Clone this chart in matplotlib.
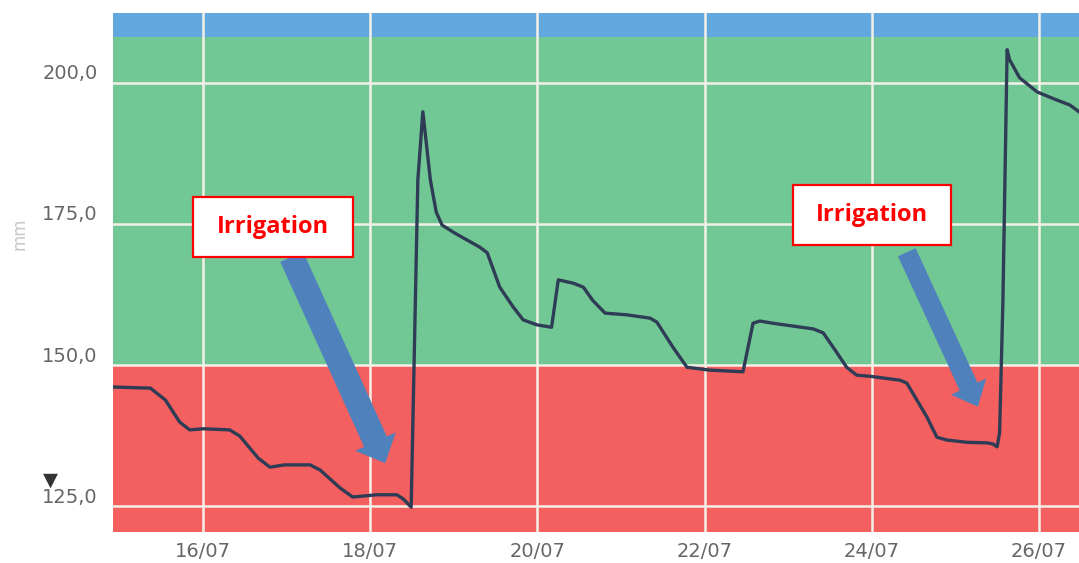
import matplotlib
matplotlib.use("Agg")
import matplotlib.pyplot as plt
from matplotlib.patches import Rectangle, FancyArrowPatch
from matplotlib.transforms import ScaledTranslation

# ---- data (day of July, soil water in mm) ----
days = [14.92, 15.37, 15.55, 15.72, 15.84, 16.00, 16.32, 16.44, 16.66, 16.80,
        16.98, 17.28, 17.40, 17.64, 17.79, 18.08, 18.32, 18.40, 18.49, 18.57,
        18.63, 18.72, 18.79, 18.86, 19.01, 19.31, 19.40, 19.55, 19.71, 19.83,
        20.00, 20.17, 20.25, 20.43, 20.55, 20.66, 20.81, 21.07, 21.35, 21.43,
        21.62, 21.79, 22.06, 22.46, 22.58, 22.66, 22.82, 23.30, 23.42, 23.56,
        23.70, 23.82, 23.98, 24.34, 24.42, 24.54, 24.66, 24.78, 24.90, 25.14,
        25.38, 25.45, 25.50, 25.53, 25.57, 25.62, 25.65, 25.77, 25.98, 26.21,
        26.37, 26.48]
water_mm = [146.1, 145.9, 143.8, 139.9, 138.5, 138.7, 138.5, 137.4, 133.5, 131.9,
            132.3, 132.3, 131.4, 128.2, 126.6, 127.0, 127.0, 126.2, 124.8, 182.8,
            194.9, 182.8, 177.1, 174.8, 173.4, 170.9, 169.9, 163.8, 160.3, 158.0,
            157.1, 156.7, 165.1, 164.5, 163.8, 161.5, 159.2, 158.9, 158.3, 157.6,
            153.2, 149.6, 149.1, 148.8, 157.4, 157.8, 157.4, 156.4, 155.7, 152.7,
            149.6, 148.2, 148.0, 147.3, 146.8, 143.8, 140.8, 137.2, 136.7, 136.3,
            136.2, 136.0, 135.5, 138.0, 161.5, 205.9, 204.1, 200.9, 198.4, 197.0,
            196.1, 194.9]

x_ticks = [16, 18, 20, 22, 24, 26]
x_tick_labels = ["16/07", "18/07", "20/07", "22/07", "24/07", "26/07"]
y_ticks = [125, 150, 175, 200]
y_tick_labels = ["125,0", "150,0", "175,0", "200,0"]

band_red = (120.4, 150.0)
band_green = (150.0, 208.2)
band_blue = (208.2, 212.4)

annotation_text = "Irrigation"

# ---- figure ----
W, H = 1079, 563
fig = plt.figure(figsize=(W / 100, H / 100), dpi=100)
ax = fig.add_axes([113 / W, 1 - 532 / H, 1 - 113 / W, (532 - 13) / H])

xmin, xmax = 14.923, 26.48
ymin, ymax = 120.4, 212.4
ax.set_xlim(xmin, xmax)
ax.set_ylim(ymin, ymax)

ax.axhspan(*band_red, color="#f45f5f", zorder=0, lw=0)
ax.axhspan(*band_green, color="#72c895", zorder=0, lw=0)
ax.axhspan(*band_blue, color="#60a8dd", zorder=0, lw=0)

for s in ax.spines.values():
    s.set_visible(False)

ax.set_xticks(x_ticks)
ax.set_xticklabels(x_tick_labels)
ax.set_yticks(y_ticks)
ax.set_yticklabels(y_tick_labels)
ax.tick_params(length=0, labelsize=14, labelcolor="#666666")
ax.tick_params(axis="x", pad=7)
ax.tick_params(axis="y", pad=11)
ax.grid(True, color="#f4f0e8", lw=1.8, zorder=1)
ax.set_axisbelow(False)
for gl in ax.get_xgridlines() + ax.get_ygridlines():
    gl.set_zorder(1)

for lab in ax.get_yticklabels():
    lab.set_transform(lab.get_transform() + ScaledTranslation(0, 11 / 100, fig.dpi_scale_trans))

ax.plot(days, water_mm, color="#2e3d55", lw=2.4, zorder=3, solid_joinstyle="round")

# "mm" label
fig.text(19 / W, 1 - 234 / H, "mm", rotation=90, color="#c8c8c8", fontsize=12,
         ha="center", va="center")
# navigator triangle
fig.text(50 / W, 1 - 480 / H, "\u25BC", color="#333333", fontsize=14,
         ha="center", va="center")

# arrows
arrow_style = "simple,head_length=17,head_width=32,tail_width=18"
a1 = FancyArrowPatch((17.06, 169.2), (18.18, 132.6), arrowstyle=arrow_style,
                     mutation_scale=1, color="#4f81bd", lw=0, zorder=4,
                     shrinkA=0, shrinkB=0)
ax.add_patch(a1)
arrow_style2 = "simple,head_length=16,head_width=28,tail_width=14"
a2 = FancyArrowPatch((24.42, 170.0), (25.27, 142.6), arrowstyle=arrow_style2,
                     mutation_scale=1, color="#4f81bd", lw=0, zorder=4,
                     shrinkA=0, shrinkB=0)
ax.add_patch(a2)

# annotation boxes
for (x0, x1, y0, y1) in [(15.88, 17.79, 169.2, 179.8), (23.06, 24.95, 171.3, 181.9)]:
    ax.add_patch(Rectangle((x0, y0), x1 - x0, y1 - y0, facecolor="white",
                           edgecolor="#ff0000", lw=1.6, zorder=5))
    ax.text((x0 + x1) / 2, (y0 + y1) / 2, annotation_text, color="#ff0000",
            fontsize=17, fontweight="bold", family="Open Sans",
            ha="center", va="center", zorder=6)

fig.savefig("out.png", dpi=100)
